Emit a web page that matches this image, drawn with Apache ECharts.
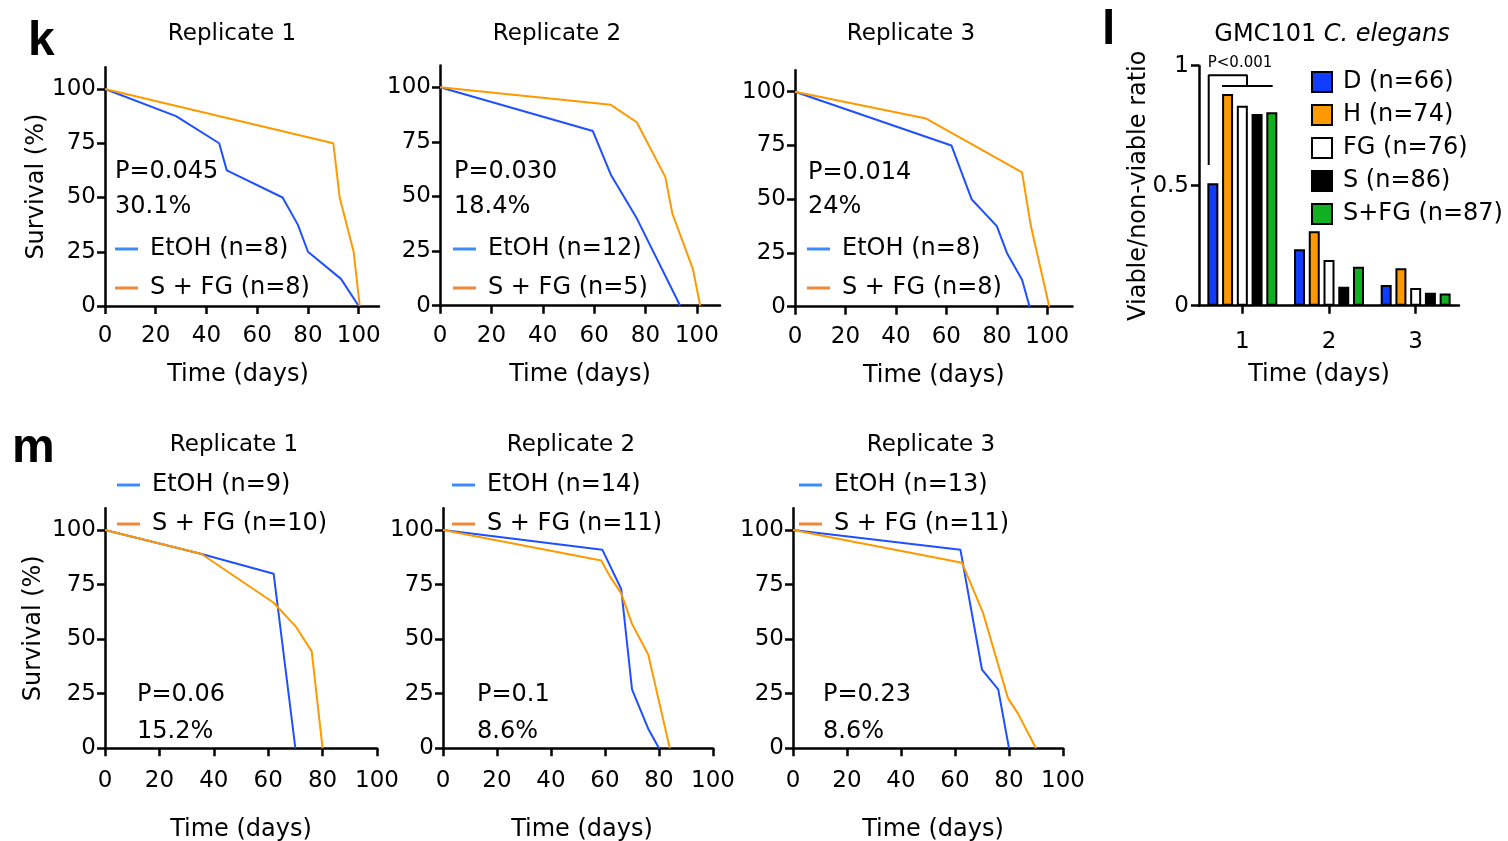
<!DOCTYPE html>
<html><head><meta charset="utf-8">
<script src="https://cdn.jsdelivr.net/npm/echarts@6/dist/echarts.min.js"></script>
<style>html,body{margin:0;padding:0;background:#fff}#c{width:1508px;height:841px}</style>
</head><body><div id="c"></div>
<script>
// ---------- DATA ----------
const survXTicks = [0, 20, 40, 60, 80, 100];
const survYTicks = [0, 25, 50, 75, 100];
// panel k (days, % survival)
const k1Etoh = [[0,100],[28,87.5],[45,75],[48,62.5],[70,50],[76,37.5],[80,25],[93,12.5],[100,0]];
const k1Sfg  = [[0,100],[90,75],[92.5,50],[98,25],[100.4,0]];
const k2Etoh = [[0,100],[59.5,80],[66.5,60],[76.6,40],[93.5,0]];
const k2Sfg  = [[0,100],[66.5,92],[76.6,84],[87.7,59],[90.5,42],[98.4,17],[101.3,0]];
const k3Etoh = [[0,100],[62,75],[70,50],[80,37.5],[84,25],[90,12.5],[93,0]];
const k3Sfg  = [[0,100],[52,87.5],[90,62.5],[93.5,37.5],[100.8,0]];
// panel m
const m1Etoh = [[0,100],[35.5,89],[62,80],[70,0]];
const m1Sfg  = [[0,100],[35.5,89],[62,66.7],[70,56],[76,44.4],[80,0]];
const m2Etoh = [[0,100],[59,91],[66,73],[70,27],[76,9],[80,0]];
const m2Sfg  = [[0,100],[58.6,86],[61.7,79],[66,71],[70,57],[76,43],[84,0]];
const m3Etoh = [[0,100],[62,91],[70,36],[76,27],[80,0]];
const m3Sfg  = [[0,100],[62.6,85],[70.4,62],[79.6,23],[83.3,16],[90,0]];
// legend names
const kNames = [['EtOH (n=8)','S + FG (n=8)'],['EtOH (n=12)','S + FG (n=5)'],['EtOH (n=8)','S + FG (n=8)']];
const mNames = [['EtOH (n=9)','S + FG (n=10)'],['EtOH (n=14)','S + FG (n=11)'],['EtOH (n=13)','S + FG (n=11)']];
const kStats = [['P=0.045','30.1%'],['P=0.030','18.4%'],['P=0.014','24%']];
const mStats = [['P=0.06','15.2%'],['P=0.1','8.6%'],['P=0.23','8.6%']];
// panel l
const lCats = ['1','2','3'];
const lNames = ['D (n=66)','H (n=74)','FG (n=76)','S (n=86)','S+FG (n=87)'];
const barD   = [0.51, 0.235, 0.086];
const barH   = [0.882, 0.31, 0.156];
const barFG  = [0.833, 0.19, 0.074];
const barS   = [0.799, 0.079, 0.054];
const barSFG = [0.806, 0.162, 0.051];
const bracketA = [[0.112,0.586],[0.112,0.96],[0.554,0.96],[0.554,0.915]];
const bracketB = [[0.265,0.915],[0.85,0.915]];

// ---------- STYLE / LAYOUT ----------
const FONT = 'DejaVu Sans';
const BLUE = '#1f50ff', ORANGE = '#ff9900';
const BLUE_LEG = '#3d8cff', ORANGE_LEG = '#f08838';
const BAR_COLORS = ['#0f3cff', '#ff9900', '#ffffff', '#000000', '#10b020'];
const survPanels = [
  {g:{left:105,top:67.3,width:274,height:238.7}, xmax:108, data:[k1Etoh,k1Sfg], names:kNames[0], stats:kStats[0], yName:true,
   leg:{left:115,top:236}, statX:115, statY:[172,207], title:['Replicate 1',232,34], labM:19, nameGap:57, namePad:[0,8,0,0]},
  {g:{left:440,top:65.5,width:280,height:240.2}, xmax:109, data:[k2Etoh,k2Sfg], names:kNames[1], stats:kStats[1],
   leg:{left:453,top:236}, statX:454, statY:[172,207], title:['Replicate 2',557,34], labM:19, nameGap:57, namePad:0},
  {g:{left:795,top:70.2,width:277.5,height:236.5}, xmax:110, data:[k3Etoh,k3Sfg], names:kNames[2], stats:kStats[2],
   leg:{left:807,top:236}, statX:808, statY:[173,207], title:['Replicate 3',911,34], labM:19, nameGap:57, namePad:0},
  {g:{left:105,top:508.2,width:272,height:240.1}, xmax:100, data:[m1Etoh,m1Sfg], names:mNames[0], stats:mStats[0], yName:true,
   leg:{left:117,top:472}, statX:137, statY:[695,732], title:['Replicate 1',234,445], labM:21, nameGap:69, namePad:0},
  {g:{left:443,top:508.2,width:270,height:240.1}, xmax:100, data:[m2Etoh,m2Sfg], names:mNames[1], stats:mStats[1],
   leg:{left:452,top:472}, statX:477, statY:[695,732], title:['Replicate 2',571,445], labM:21, nameGap:69, namePad:[0,0,0,8]},
  {g:{left:793,top:508.2,width:270,height:240.1}, xmax:100, data:[m3Etoh,m3Sfg], names:mNames[2], stats:mStats[2],
   leg:{left:799,top:472}, statX:823, statY:[695,732], title:['Replicate 3',931,445], labM:21, nameGap:69, namePad:[0,0,0,10]}
];
const lGrid = {left:1199, top:65.7, width:260, height:240};

const axisLine = {show:true, lineStyle:{color:'#000', width:2.5}};
const axisTick = (vals) => ({show:true, length:8, lineStyle:{color:'#000', width:2.5}, customValues: vals});
const lab = (extra) => Object.assign({color:'#000', fontFamily:FONT, fontSize:23}, extra);

const grids = [], xAxes = [], yAxes = [], series = [], legends = [], graphics = [];

survPanels.forEach((p, i) => {
  const gi = grids.length;
  grids.push(Object.assign({outerBoundsMode:'none', containLabel:false}, p.g));
  xAxes.push({type:'value', gridIndex:gi, min:0, max:p.xmax,
    axisLine, axisTick: axisTick(survXTicks), splitLine:{show:false},
    axisLabel: lab({margin:p.labM, customValues: survXTicks}),
    name:'Time (days)', nameLocation:'middle', nameGap:p.nameGap, nameMoveOverlap:false,
    nameTextStyle:{color:'#000', fontFamily:FONT, fontSize:24, padding:p.namePad}});
  yAxes.push({type:'value', gridIndex:gi, min:0, max:110,
    axisLine, axisTick: axisTick(survYTicks), splitLine:{show:false},
    axisLabel: lab({margin:9, customValues: survYTicks}),
    name: p.yName ? 'Survival (%)' : '', nameLocation:'middle', nameGap: i < 3 ? 56 : 59, nameMoveOverlap:false,
    nameTextStyle:{color:'#000', fontFamily:FONT, fontSize:24}});
  [BLUE, ORANGE].forEach((c, j) => {
    series.push({type:'line', name:p.names[j], xAxisIndex:gi, yAxisIndex:gi, data:p.data[j],
      showSymbol:false, symbol:'none', silent:true, animation:false,
      lineStyle:{color:c, width:2}, itemStyle:{color:c}, z: 3 + j});
  });
  legends.push({orient:'vertical', left:p.leg.left, top:p.leg.top, padding:0, itemGap:13,
    icon:'rect', itemWidth:23, itemHeight:3, selectedMode:false,
    textStyle:{color:'#000', fontFamily:FONT, fontSize:24, lineHeight:26, padding:[0,0,0,7]},
    data:[{name:p.names[0], itemStyle:{color:BLUE_LEG}}, {name:p.names[1], itemStyle:{color:ORANGE_LEG}}]});
  graphics.push({type:'text', x:p.title[1], y:p.title[2], silent:true,
    style:{text:p.title[0], fill:'#000', font:'23px "'+FONT+'"', textAlign:'center', textVerticalAlign:'middle'}});
  p.stats.forEach((s, k) => graphics.push({type:'text', x:p.statX, y:p.statY[k], silent:true,
    style:{text:s, fill:'#000', font:'24px "'+FONT+'"', textAlign:'left', textVerticalAlign:'middle'}}));
});

// panel l
const lgi = grids.length;
grids.push(Object.assign({outerBoundsMode:'none', containLabel:false}, lGrid));
xAxes.push({type:'category', gridIndex:lgi, data:lCats, boundaryGap:true,
  axisLine, axisTick:{show:true, alignWithLabel:true, length:8, lineStyle:{color:'#000', width:2.5}},
  axisLabel: lab({margin:25}),
  name:'Time (days)', nameLocation:'middle', nameGap:57, nameMoveOverlap:false,
  nameTextStyle:{color:'#000', fontFamily:FONT, fontSize:24, padding:[0,20,0,0]}});
yAxes.push({type:'value', gridIndex:lgi, min:0, max:1, interval:0.5,
  axisLine, axisTick:{show:true, length:8, lineStyle:{color:'#000', width:2.5}}, splitLine:{show:false},
  axisLabel: lab({margin:10}),
  name:'Viable/non-viable ratio', nameLocation:'middle', nameGap:48, nameMoveOverlap:false,
  nameTextStyle:{color:'#000', fontFamily:FONT, fontSize:24}});
const lbx = xAxes.length;
xAxes.push({type:'value', gridIndex:lgi, min:0, max:3, show:false});
[barD, barH, barFG, barS, barSFG].forEach((d, j) => {
  series.push({type:'bar', name:lNames[j], xAxisIndex:lgi, yAxisIndex:lgi, data:d,
    barWidth:11, barGap:'34%', silent:true, animation:false,
    itemStyle:{color:BAR_COLORS[j], borderColor:'#000', borderWidth:2}});
});
[bracketA, bracketB].forEach(b => series.push({type:'line', xAxisIndex:lbx, yAxisIndex:lgi, data:b,
  showSymbol:false, symbol:'none', silent:true, animation:false, lineStyle:{color:'#000', width:2}, z:5}));
legends.push({orient:'vertical', left:1311, top:70, padding:0, itemGap:9, icon:'rect',
  itemWidth:20, itemHeight:20, selectedMode:false,
  itemStyle:{borderColor:'#000', borderWidth:2},
  textStyle:{color:'#000', fontFamily:FONT, fontSize:24, lineHeight:24, padding:[0,0,0,6]},
  data:lNames});
graphics.push({type:'text', x:1332, y:35, silent:true,
  style:{text:'{a|GMC101 }{b|C. elegans}', textAlign:'center', textVerticalAlign:'middle',
    rich:{a:{fontFamily:FONT, fontSize:24, fill:'#000', color:'#000'},
          b:{fontFamily:FONT, fontSize:24, fontStyle:'italic', fill:'#000', color:'#000'}}}});
graphics.push({type:'text', x:1240, y:63, silent:true,
  style:{text:'P<0.001', fill:'#000', font:'15px "'+FONT+'"', textAlign:'center', textVerticalAlign:'middle'}});

// panel letters
[['k',28,66],['l',1102,55],['m',12,473]].forEach(t => graphics.push({type:'text', x:t[1], y:t[2], silent:true,
  style:{text:t[0], fill:'#000', font:'bold 48px "Liberation Sans"', textAlign:'left', textVerticalAlign:'bottom'}}));

const chart = echarts.init(document.getElementById('c'), null, {renderer:'canvas'});
chart.setOption({
  backgroundColor:'#fff', animation:false,
  textStyle:{fontFamily:FONT},
  grid:grids, xAxis:xAxes, yAxis:yAxes, series, legend:legends, graphic:graphics
});
</script></body></html>
